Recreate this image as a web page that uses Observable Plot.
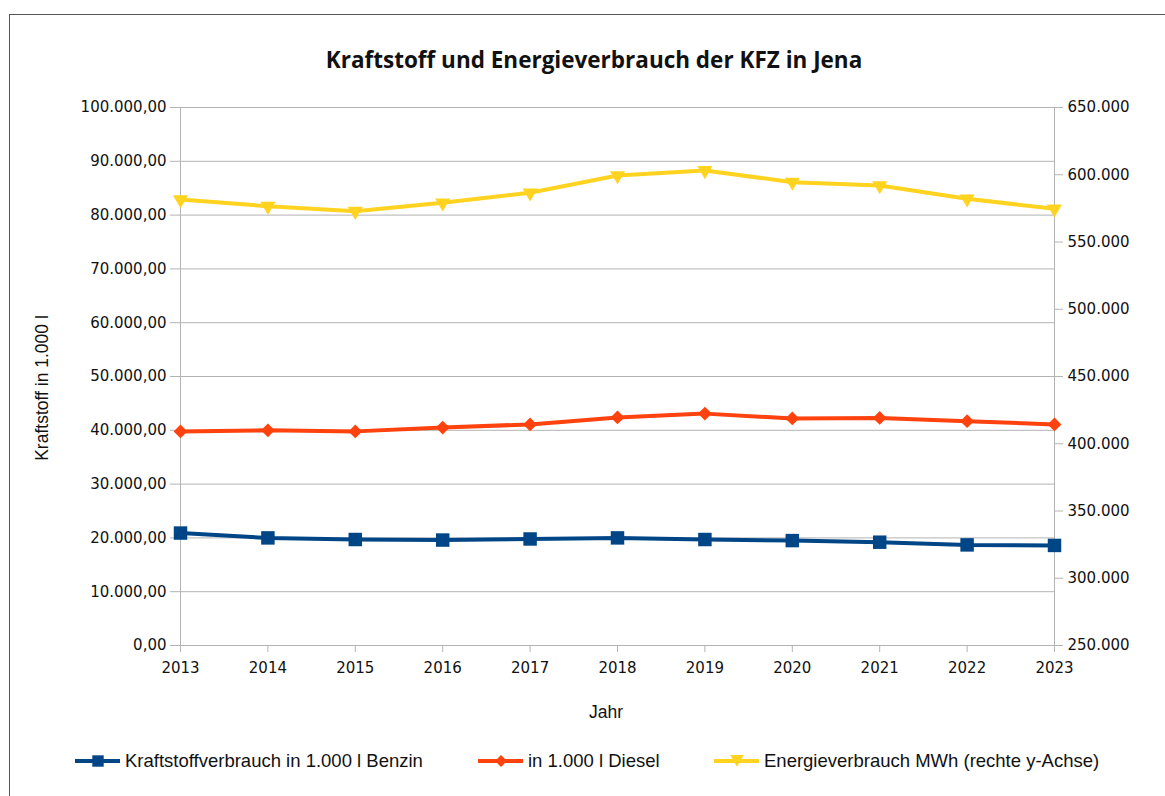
<!DOCTYPE html>
<html>
<head>
<meta charset="utf-8">
<script src="https://cdn.jsdelivr.net/npm/d3@7"></script>
<script src="https://cdn.jsdelivr.net/npm/@observablehq/plot@0.6"></script>
<style>
  html, body { margin: 0; padding: 0; background: #fff; }
  body { width: 1165px; height: 796px; position: relative; overflow: hidden; font-family: "Liberation Sans", Arial, sans-serif; }
  #frame { position: absolute; left: 9px; top: 14px; width: 1200px; height: 850px; border: 1px solid #555; box-sizing: border-box; }
  #title { position: absolute; left: 0; width: 1188px; top: 44px; text-align: center; font-family: "Open Sans", sans-serif; font-weight: bold; font-size: 22.5px; line-height: 32px; color: #111; }
  #chart { position: absolute; left: 0; top: 90px; }
  #ylabel { position: absolute; left: 42px; top: 388px; transform: translate(-50%, -50%) rotate(-90deg); white-space: nowrap; font-size: 17.5px; color: #111; }
  #xlabel { position: absolute; left: 606px; top: 712px; transform: translate(-50%, -50%); font-size: 17.5px; color: #111; }
  .leg { position: absolute; top: 750px; height: 22px; display: flex; align-items: center; font-size: 18.5px; color: #111; white-space: nowrap; }
  .leg svg { margin-right: 4px; }
</style>
</head>
<body>
<div id="frame"></div>
<div id="title">Kraftstoff und Energieverbrauch der KFZ in Jena</div>
<div id="chart"></div>
<div id="ylabel">Kraftstoff in 1.000 l</div>
<div id="xlabel">Jahr</div>
<div id="legend"></div>
<script>
const years = [2013, 2014, 2015, 2016, 2017, 2018, 2019, 2020, 2021, 2022, 2023];
const benzin = [20900, 20000, 19700, 19600, 19800, 20000, 19700, 19500, 19200, 18700, 18600];
const diesel = [39800, 40000, 39800, 40500, 41100, 42400, 43100, 42200, 42300, 41700, 41100];
const energie = [581600, 576600, 572900, 579100, 586600, 599400, 603200, 594500, 592000, 582100, 574700];

const leftTicks = [0, 10000, 20000, 30000, 40000, 50000, 60000, 70000, 80000, 90000, 100000];
const rightTicks = [250000, 300000, 350000, 400000, 450000, 500000, 550000, 600000, 650000];

const seriesNames = ["Kraftstoffverbrauch in 1.000 l Benzin", "in 1.000 l Diesel", "Energieverbrauch MWh (rechte y-Achse)"];
const colors = ["#004586", "#ff420e", "#ffd320"];

const de = d3.formatLocale({decimal: ",", thousands: ".", grouping: [3], currency: ["", " €"]});
const fmtLeft = de.format(",.2f");
const fmtRight = de.format(",.0f");

// right axis maps onto left scale
const toLeft = v => (v - 250000) / 4;
const fromLeft = v => v * 4 + 250000;

const rows = [];
years.forEach((yr, i) => {
  rows.push({year: yr, series: seriesNames[0], v: benzin[i]});
  rows.push({year: yr, series: seriesNames[1], v: diesel[i]});
  rows.push({year: yr, series: seriesNames[2], v: toLeft(energie[i])});
});
const bySeries = s => rows.filter(d => d.series === s);

const grid = "#b3b3b3";

const plot = Plot.plot({
  width: 1165,
  height: 640,
  marginLeft: 180,
  marginRight: 111,
  marginTop: 17,
  marginBottom: 85,
  style: {fontFamily: "DejaVu Sans, sans-serif", fontSize: "15px", color: "#111", background: "transparent"},
  x: {domain: [2013, 2023], label: null},
  y: {domain: [0, 100000], label: null},
  marks: [
    Plot.gridY(leftTicks, {stroke: grid, strokeOpacity: 1}),
    Plot.ruleX([2013, 2023], {stroke: grid}),
    Plot.ruleY([0], {stroke: grid}),
    Plot.axisY(leftTicks, {anchor: "left", tickSize: 10, tickPadding: 4, stroke: grid, fill: "#111", tickFormat: fmtLeft, label: null}),
    Plot.axisY(rightTicks.map(toLeft), {anchor: "right", tickSize: 8, tickPadding: 5, stroke: grid, fill: "#111", tickFormat: d => fmtRight(fromLeft(d)), label: null}),
    Plot.axisX(years, {anchor: "bottom", tickSize: 7, tickPadding: 10, stroke: grid, fill: "#111", tickFormat: d => String(d), label: null}),
    Plot.line(bySeries(seriesNames[2]), {x: "year", y: "v", stroke: colors[2], strokeWidth: 4}),
    Plot.dot(bySeries(seriesNames[2]), {x: "year", y: "v", symbol: "triangle", rotate: 180, r: 5.6, fill: colors[2], stroke: "none"}),
    Plot.line(bySeries(seriesNames[1]), {x: "year", y: "v", stroke: colors[1], strokeWidth: 4}),
    Plot.dot(bySeries(seriesNames[1]), {x: "year", y: "v", symbol: "diamond2", r: 6.2, fill: colors[1], stroke: "none"}),
    Plot.line(bySeries(seriesNames[0]), {x: "year", y: "v", stroke: colors[0], strokeWidth: 4}),
    Plot.dot(bySeries(seriesNames[0]), {x: "year", y: "v", symbol: "square", r: 7.6, fill: colors[0], stroke: "none"})
  ]
});
document.getElementById("chart").appendChild(plot);

// legend
const legPos = [75, 478, 714];
const legSyms = [d3.symbolSquare, d3.symbolDiamond2, d3.symbolTriangle];
const legSizes = [130, 90, 80];
const legend = document.getElementById("legend");
seriesNames.forEach((name, i) => {
  const item = document.createElement("div");
  item.className = "leg";
  item.style.left = legPos[i] + "px";
  const svg = d3.create("svg").attr("width", 46).attr("height", 22);
  svg.append("line").attr("x1", 0).attr("x2", 45).attr("y1", 11).attr("y2", 11).attr("stroke", colors[i]).attr("stroke-width", 4);
  svg.append("path").attr("d", d3.symbol(legSyms[i], legSizes[i])()).attr("fill", colors[i])
    .attr("transform", `translate(23,${i === 2 ? 9 : 11})` + (i === 2 ? " rotate(180)" : ""));
  item.appendChild(svg.node());
  const span = document.createElement("span");
  span.textContent = name;
  item.appendChild(span);
  legend.appendChild(item);
});
</script>
</body>
</html>
